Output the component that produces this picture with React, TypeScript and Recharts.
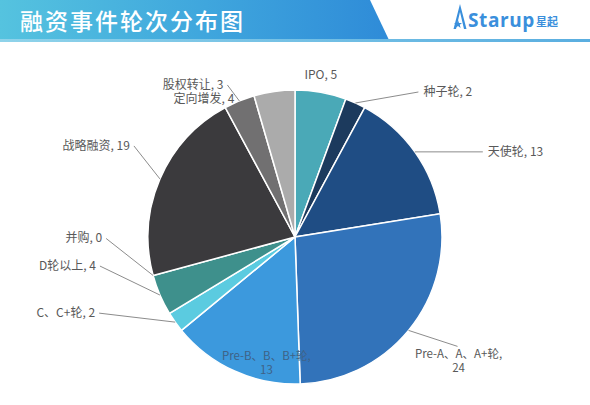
import { PieChart, Pie, Cell } from "recharts";

const names = [
    "IPO",
    "种子轮",
    "天使轮",
    "Pre-A、A、A+轮",
    "Pre-B、B、B+轮",
    "C、C+轮",
    "D轮以上",
    "并购",
    "战略融资",
    "股权转让",
    "定向增发",
];
const values = [5, 2, 13, 24, 13, 2, 4, 0, 19, 3, 4];
const colors = [
    "#4aa9b7",
    "#1c3a5d",
    "#1f4d84",
    "#3273ba",
    "#3c99dd",
    "#5bcbe0",
    "#3e908c",
    "#2f7f83",
    "#3b3a3d",
    "#717071",
    "#ababab",
];

// label placement relative to the slice edge (Excel-style leader lines)
const labelLayout = [
    { dx: 0, dy: -17, anchor: "middle", line: false },
    { dx: 63, dy: -11, anchor: "start", line: true },
    { dx: 68, dy: 0, anchor: "start", line: true },
    { dx: 49, dy: 16, anchor: "middle", line: true, wrap: true },
    { dx: 24, dy: 10, anchor: "middle", line: false, wrap: true, inside: true },
    { dx: -76, dy: -9, anchor: "end", line: true },
    { dx: -60, dy: -29, anchor: "end", line: true },
    { dx: -47, dy: -37, anchor: "end", line: true },
    { dx: -26, dy: -33, anchor: "end", line: true },
    { dx: -12, dy: -16, anchor: "end", line: true },
    { dx: -36, dy: 8, anchor: "end", line: false },
];

const data = names.map((name, i) => ({ name, value: values[i] }));
const RAD = Math.PI / 180;
const font = "'Noto Sans CJK SC', 'Noto Sans', sans-serif";

function renderLabel(props: any) {
    const { cx, cy, midAngle, outerRadius, index, name, value } = props;
    const lay: any = labelLayout[index];
    const cos = Math.cos(-midAngle * RAD);
    const sin = Math.sin(-midAngle * RAD);
    const ex = cx + outerRadius * cos;
    const ey = cy + outerRadius * sin;

    if (lay.inside) {
        const r = outerRadius - 19;
        const x = cx + r * cos + lay.dx;
        const y = cy + r * sin + lay.dy;
        return (
            <text x={x} y={y} textAnchor="middle" fill="#3f6286" fontSize={11.5} fontFamily={font}>
                <tspan x={x} dy={-4}>{name},</tspan>
                <tspan x={x} dy={14}>{value}</tspan>
            </text>
        );
    }

    const lx = ex + lay.dx;
    const ly = ey + lay.dy;
    const gap = lay.anchor === "start" ? 5 : lay.anchor === "end" ? -4 : 0;

    return (
        <g>
            {lay.line && (
                <polyline
                    points={`${ex},${ey} ${lx},${ly}`}
                    stroke="#8c8c8c"
                    strokeWidth={1}
                    fill="none"
                />
            )}
            {lay.wrap ? (
                <text x={lx + 1} y={ly} textAnchor="middle" fill="#595959" fontSize={11.5} fontFamily={font}>
                    <tspan x={lx + 1} dy={12}>{name},</tspan>
                    <tspan x={lx + 1} dy={14}>{value}</tspan>
                </text>
            ) : (
                <text
                    x={lx + gap}
                    y={ly}
                    dy={4}
                    textAnchor={lay.anchor}
                    fill="#595959"
                    fontSize={12}
                    fontFamily={font}
                >
                    {name}, {value}
                </text>
            )}
        </g>
    );
}

function Logo() {
    return (
        <div style={{ position: "absolute", left: 453, top: 2, height: 28, display: "flex", alignItems: "center" }}>
            <svg width={14} height={27} viewBox="0 0 14 27">
                <path d="M7 1 L13.5 26 L11 26 L7 9 L3 26 L0.5 26 Z" fill="#3a8fdc" />
                <path d="M5 17 L6 20 L9 20 L6.8 21.8 L7.6 25 L5 23 L2.4 25 L3.2 21.8 L1 20 L4 20 Z" fill="#3a8fdc" />
            </svg>
            <span
                style={{
                    color: "#3a8fdc",
                    fontFamily: "'Open Sans', sans-serif",
                    fontWeight: 700,
                    fontSize: 19,
                    letterSpacing: 0.6,
                    marginLeft: 1,
                    marginTop: 8,
                }}
            >
                Starup
            </span>
            <span
                style={{
                    color: "#3a8fdc",
                    fontFamily: "'Noto Sans CJK SC', sans-serif",
                    fontWeight: 700,
                    fontSize: 11,
                    marginLeft: 1,
                    marginTop: 10,
                }}
            >
                星起
            </span>
        </div>
    );
}

export default function App() {
    return (
        <div style={pageStyle}>
            <div style={headerStyle} />
            <div style={headerLineStyle} />
            <div style={titleStyle}>融资事件轮次分布图</div>
            <Logo />
            <div style={{ position: "absolute", left: 0, top: 0 }}>
                <PieChart width={590} height={405} margin={{ top: 0, right: 0, bottom: 0, left: 0 }}>
                    <Pie
                        data={data}
                        dataKey="value"
                        nameKey="name"
                        cx={295}
                        cy={237}
                        outerRadius={147}
                        startAngle={90}
                        endAngle={-270}
                        stroke="#ffffff"
                        strokeWidth={1.5}
                        label={renderLabel}
                        labelLine={false}
                        isAnimationActive={false}
                    >
                        {data.map((d, i) => (
                            <Cell key={d.name} fill={colors[i]} />
                        ))}
                    </Pie>
                </PieChart>
            </div>
        </div>
    );
}

const pageStyle: any = {
    position: "absolute",
    left: 0,
    top: 0,
    width: 590,
    height: 405,
    background: "#ffffff",
    overflow: "hidden",
};

const headerStyle: any = {
    position: "absolute",
    left: 0,
    top: 0,
    width: 590,
    height: 40,
    background: "linear-gradient(90deg, #55c3df 0%, #3fa6dd 35%, #2f8cd8 65%)",
    clipPath: "polygon(0 0, 370px 0, 389px 40px, 0 40px)",
};

const headerLineStyle: any = {
    position: "absolute",
    left: 0,
    top: 39,
    width: 590,
    height: 3,
    background: "linear-gradient(90deg, #8fd3ea 0%, #5aaee0 100%)",
};

const titleStyle: any = {
    position: "absolute",
    left: 20,
    top: 5,
    color: "#ffffff",
    fontFamily: "'Noto Sans CJK SC', sans-serif",
    fontWeight: 500,
    fontSize: 23,
    letterSpacing: 2,
    lineHeight: "30px",
};
